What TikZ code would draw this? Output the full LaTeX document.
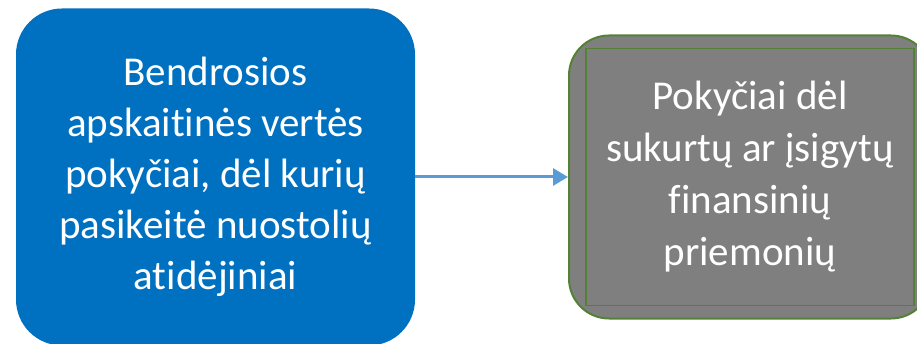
\documentclass[tikz,border=0pt]{standalone}
\usepackage{fontspec}
\setmainfont[Ligatures=NoCommon]{Carlito}
\usepackage{xcolor}
\usetikzlibrary{arrows.meta}
\definecolor{boxblue}{HTML}{0070C0}
\definecolor{arrowblue}{HTML}{5B9BD5}
\definecolor{boxgray}{HTML}{7F7F7F}
\definecolor{boxgreen}{HTML}{548235}

\begin{document}
\begin{tikzpicture}[x=1pt,y=-1pt,
  box/.style={align=center, text=white, inner sep=0pt,
    font=\fontsize{41}{51}\selectfont, rounded corners=46pt}]

\useasboundingbox (0,0) rectangle (917,344);

\node[box, fill=boxblue, minimum width=399pt, minimum height=337pt]
  (changes) at (215.5,177)
  {Bendrosios\\apskaitinės vertės\\pokyčiai, dėl kurių\\pasikeitė nuostolių\\atidėjiniai};

\node[box, fill=boxgray, draw=boxgreen, line width=2pt,
  font=\fontsize{41}{52}\selectfont, rounded corners=40pt,
  minimum width=362pt, minimum height=283pt]
  (acquired) at (750,177)
  {Pokyčiai dėl\\sukurtų ar įsigytų\\finansinių\\priemonių};

\draw[boxgreen, line width=1.5pt]
  ([shift={(18pt,-14pt)}]acquired.north west) rectangle
  ([shift={(-18pt,14pt)}]acquired.south east);

\draw[arrowblue, line width=3pt, -{Triangle[length=15pt,width=17pt]}]
  (changes.east |- 0,177) -- (acquired.west |- 0,177);

\end{tikzpicture}
\end{document}
